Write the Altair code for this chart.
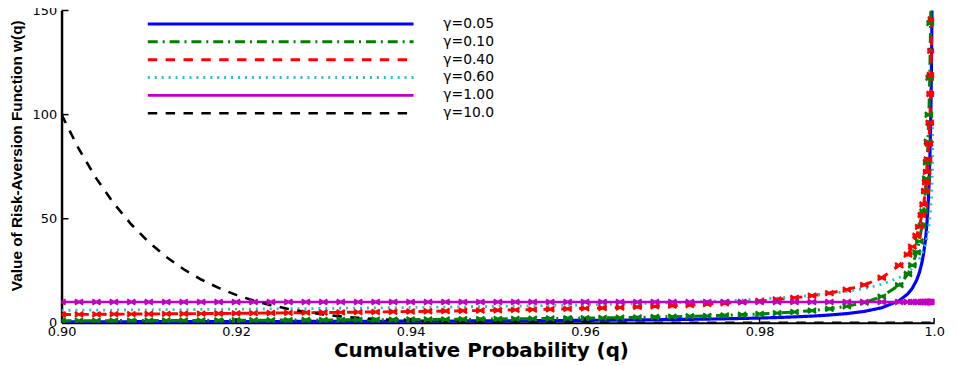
import altair as alt
import pandas as pd

# ---------------- data ----------------
q = [0.900, 0.902, 0.904, 0.906, 0.908, 0.910, 0.912, 0.914, 0.916, 0.918,
     0.920, 0.922, 0.924, 0.926, 0.928, 0.930, 0.932, 0.934, 0.936, 0.938,
     0.940, 0.942, 0.944, 0.946, 0.948, 0.950, 0.952, 0.954, 0.956, 0.958,
     0.960, 0.962, 0.964, 0.966, 0.968, 0.970, 0.972, 0.974, 0.976, 0.978,
     0.980, 0.982, 0.984, 0.986, 0.988, 0.990, 0.992, 0.994, 0.996,
     0.997, 0.9975, 0.998, 0.9983, 0.9986, 0.9988, 0.999, 0.9991, 0.9992,
     0.9993, 0.9994, 0.9995, 0.9996, 0.99965, 0.9997, 0.99975, 0.9998,
     0.99985, 0.9999]

w_005 = [0.500, 0.510, 0.520, 0.530, 0.541, 0.553, 0.565, 0.577, 0.590, 0.604,
         0.618, 0.633, 0.649, 0.666, 0.683, 0.702, 0.721, 0.742, 0.764, 0.787,
         0.812, 0.839, 0.867, 0.898, 0.931, 0.966, 1.004, 1.046, 1.091, 1.140,
         1.194, 1.254, 1.320, 1.393, 1.476, 1.569, 1.676, 1.798, 1.940, 2.107,
         2.307, 2.550, 2.852, 3.237, 3.748, 4.456, 5.509, 7.240, 10.64,
         13.99, 16.63, 20.56, 23.99, 28.85, 33.40, 39.72, 43.90, 49.10,
         55.74, 64.5, 76.7, 94.8, 107.7, 124.6, 148.2, 183.2, 240.7, 354.0]

w_010 = [1.000, 1.018, 1.037, 1.057, 1.078, 1.099, 1.122, 1.145, 1.170, 1.196,
         1.222, 1.251, 1.280, 1.311, 1.344, 1.379, 1.415, 1.453, 1.494, 1.538,
         1.584, 1.633, 1.685, 1.741, 1.801, 1.866, 1.936, 2.011, 2.094, 2.183,
         2.281, 2.389, 2.508, 2.640, 2.788, 2.955, 3.145, 3.361, 3.612, 3.907,
         4.257, 4.680, 5.204, 5.868, 6.741, 7.943, 9.710, 12.58, 18.12,
         23.47, 27.66, 33.81, 39.14, 46.62, 53.55, 63.10, 69.38, 77.13,
         86.98, 99.92, 117.7, 143.9, 162.3, 186.4, 219.7, 268.5, 347.9, 501.2]

w_040 = [4.000, 4.049, 4.099, 4.151, 4.205, 4.261, 4.319, 4.379, 4.441, 4.506,
         4.573, 4.643, 4.716, 4.792, 4.872, 4.955, 5.041, 5.133, 5.228, 5.329,
         5.435, 5.546, 5.664, 5.789, 5.922, 6.063, 6.213, 6.374, 6.546, 6.731,
         6.931, 7.148, 7.384, 7.641, 7.924, 8.237, 8.585, 8.976, 9.417, 9.922,
         10.51, 11.19, 12.01, 13.01, 14.27, 15.92, 18.21, 21.64, 27.59,
         32.79, 36.58, 41.83, 46.11, 51.81, 56.83, 63.40, 67.53, 72.48,
         78.52, 86.13, 96.09, 109.9, 119.0, 130.6, 145.7, 166.5, 197.9, 252.4]

w_060 = [6.000, 6.049, 6.099, 6.150, 6.204, 6.258, 6.315, 6.373, 6.433, 6.496,
         6.560, 6.627, 6.696, 6.768, 6.843, 6.920, 7.001, 7.085, 7.173, 7.264,
         7.360, 7.461, 7.566, 7.677, 7.794, 7.917, 8.047, 8.186, 8.332, 8.489,
         8.656, 8.836, 9.029, 9.238, 9.464, 9.712, 9.984, 10.28, 10.62, 10.99,
         11.42, 11.91, 12.49, 13.17, 14.01, 15.07, 16.48, 18.49, 21.74,
         24.39, 26.24, 28.69, 30.62, 33.09, 35.19, 37.86, 39.49, 41.39,
         43.66, 46.44, 49.95, 54.62, 57.62, 61.28, 65.92, 72.07, 80.85, 95.09]

w_100 = [10.0, 10.0, 10.0, 10.0, 10.0, 10.0, 10.0, 10.0, 10.0, 10.0,
         10.0, 10.0, 10.0, 10.0, 10.0, 10.0, 10.0, 10.0, 10.0, 10.0,
         10.0, 10.0, 10.0, 10.0, 10.0, 10.0, 10.0, 10.0, 10.0, 10.0,
         10.0, 10.0, 10.0, 10.0, 10.0, 10.0, 10.0, 10.0, 10.0, 10.0,
         10.0, 10.0, 10.0, 10.0, 10.0, 10.0, 10.0, 10.0, 10.0,
         10.0, 10.0, 10.0, 10.0, 10.0, 10.0, 10.0, 10.0, 10.0,
         10.0, 10.0, 10.0, 10.0, 10.0, 10.0, 10.0, 10.0, 10.0, 10.0]

w_1000 = [100.0, 83.37, 69.25, 57.30, 47.22, 38.74, 31.65, 25.73, 20.82, 16.76,
          13.42, 10.69, 8.459, 6.654, 5.200, 4.035, 3.108, 2.376, 1.801, 1.354,
          1.008, 0.743, 0.542, 0.390, 0.278, 0.195, 0.135, 0.092, 0.062, 0.041,
          0.026, 0.017, 0.010, 0.006, 0.004, 0.002, 0.0, 0.0, 0.0, 0.0,
          0.0, 0.0, 0.0, 0.0, 0.0, 0.0, 0.0, 0.0, 0.0,
          0.0, 0.0, 0.0, 0.0, 0.0, 0.0, 0.0, 0.0, 0.0,
          0.0, 0.0, 0.0, 0.0, 0.0, 0.0, 0.0, 0.0, 0.0, 0.0]

series_names = ["γ=0.05", "γ=0.10", "γ=0.40", "γ=0.60", "γ=1.00", "γ=10.0"]
series_values = [w_005, w_010, w_040, w_060, w_100, w_1000]
series_colors = ["#0000FF", "#008000", "#FF0000", "#22C4C4", "#C000C0", "#000000"]
series_dashes = [[1, 0], [10, 5, 2, 5], [9.5, 8.5], [2, 5], [1, 0], [9.5, 8.5]]
series_widths = [3.2, 2.6, 2.6, 2.0, 2.4, 2.6]
marker_series = ["γ=0.10", "γ=0.40", "γ=1.00"]

x_tick_values = [0.90, 0.92, 0.94, 0.96, 0.98, 1.0]
y_tick_values = [0, 50, 100, 150]

rows = []
for name, vals in zip(series_names, series_values):
    assert len(vals) == len(q)
    for qq, v in zip(q, vals):
        rows.append({"q": qq, "w": v, "series": name})
df = pd.DataFrame(rows)

W, H = 880, 315

xscale = alt.Scale(domain=[0.9, 1.0], nice=False, zero=False)
yscale = alt.Scale(domain=[0, 150], nice=False)

x_enc = alt.X(
    "q:Q", scale=xscale,
    axis=alt.Axis(
        values=x_tick_values,
        labelExpr="datum.value >= 0.999 ? '1.0' : format(datum.value, '.2f')",
        ticks=False, grid=False, labelFlush=False, labelOverlap=False,
        labelPadding=3, labelFont="DejaVu Sans", labelFontSize=13, labelColor="black",
        domainColor="black", domainWidth=2,
        title="Cumulative Probability (q)", titleFont="DejaVu Sans",
        titleFontWeight="bold", titleFontSize=20, titleColor="black",
        titleX=423, titleY=28, titleBaseline="middle", titleAlign="center",
    ),
)
y_enc = alt.Y(
    "w:Q", scale=yscale,
    axis=alt.Axis(
        values=y_tick_values, ticks=False, grid=False,
        labelPadding=5, labelFont="DejaVu Sans", labelFontSize=13, labelColor="black",
        domainColor="black", domainWidth=2.5,
        title="Value of Risk-Aversion Function w(q)",
        titleFont="Liberation Sans",
        titleFontWeight="bold", titleFontSize=15.5, titleColor="black",
        titleX=-45, titleY=146, titleAngle=270, titleBaseline="middle", titleAlign="center",
    ),
)

lines = alt.Chart(df).mark_line(clip=True).encode(
    x=x_enc,
    y=y_enc,
    color=alt.Color(
        "series:N",
        scale=alt.Scale(domain=series_names, range=series_colors),
        legend=alt.Legend(
            orient="none", legendX=85, legendY=5, title=None,
            symbolType="stroke", symbolSize=268 * 268, symbolStrokeWidth=2.4,
            clipHeight=17.2, rowPadding=0, labelOffset=28, padding=0,
            labelFont="DejaVu Sans", labelFontSize=14, labelColor="black",
            labelLimit=200,
        ),
    ),
    strokeDash=alt.StrokeDash(
        "series:N", scale=alt.Scale(domain=series_names, range=series_dashes)
    ),
    strokeWidth=alt.StrokeWidth(
        "series:N", scale=alt.Scale(domain=series_names, range=series_widths), legend=None
    ),
    order=alt.Order("q:Q"),
)

marker_layers = []
for name in marker_series:
    col = series_colors[series_names.index(name)]
    marker_layers.append(
        alt.Chart(df).transform_filter(alt.datum.series == name).mark_point(
            shape="M-1,-0.6L1,0.6M-1,0.6L1,-0.6M-1,0L1,0",
            filled=False, strokeWidth=2.2, size=70, opacity=1, clip=True,
        ).encode(
            x=alt.X("q:Q", scale=xscale),
            y=alt.Y("w:Q", scale=yscale),
            color=alt.value(col),
        )
    )

xt = pd.DataFrame({"t": x_tick_values[1:]})
yt = pd.DataFrame({"t": y_tick_values[1:]})
xticks = alt.Chart(xt).mark_rule(color="black", strokeWidth=1.5).encode(
    x=alt.X("t:Q", scale=xscale), y=alt.value(H), y2=alt.value(H - 5)
)
yticks = alt.Chart(yt).mark_rule(color="black", strokeWidth=1.5).encode(
    y=alt.Y("t:Q", scale=yscale), x=alt.value(0), x2=alt.value(7)
)

chart = alt.layer(lines, *marker_layers, xticks, yticks).properties(
    width=W, height=H,
    padding={"left": 54, "top": 1, "right": 15, "bottom": 41},
    autosize=alt.AutoSizeParams(type="none"),
    background="white",
).configure_view(stroke=None)

chart.save("out.html", embed_options={"renderer": "svg", "actions": False})
